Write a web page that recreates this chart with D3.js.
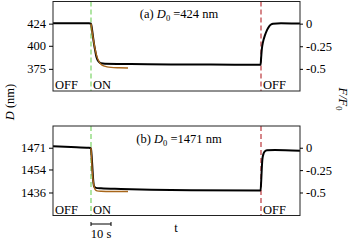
<!DOCTYPE html>
<html>
<head>
<meta charset="utf-8">
<script src="https://cdn.jsdelivr.net/npm/d3@7"></script>
<style>
  body { margin: 0; background: #fff; }
  text { font-family: "Liberation Serif", "DejaVu Serif", serif; fill: #000; }
</style>
</head>
<body>
<script>
// times in s, ON at t=0, OFF at t=85
var tOn = 0, tOff = 85;

// panel (a), D0 = 424 nm
var dataA = [
  [-19, 424.5], [-10, 424.5], [-1, 424.4], [0, 424], [0.5, 418], [1, 410], [1.5, 402],
  [2, 396], [2.5, 390], [3, 386], [4, 382.5], [5, 381], [7, 380.5], [20, 380.2],
  [40, 379.8], [60, 379.6], [84.8, 379.5], [85.1, 388], [85.4, 396], [86, 404],
  [87, 411.5], [88, 417], [89, 420.8], [90, 423], [91, 424], [95, 424.3], [104.5, 424.2]
];
var fitA = [
  [0, 424], [1, 409], [2, 397], [3, 388], [4, 383], [5, 380], [6, 378.5],
  [8, 377.2], [10, 376.6], [14, 376.2], [18.5, 376]
];
var ticksA = [375, 400, 424];
var rTicks = [0, -0.25, -0.5];

// panel (b), D0 = 1471 nm
var dataB = [
  [-19, 1472.2], [-10, 1471.6], [-1, 1470.9], [0, 1470.5], [0.3, 1465], [0.6, 1458],
  [0.9, 1450], [1.2, 1444], [1.6, 1440.5], [2.5, 1439.6], [5, 1439.3], [15, 1438.8],
  [30, 1438.2], [50, 1437.8], [84.8, 1437.5], [85.1, 1445], [85.4, 1455], [85.7, 1462],
  [86.2, 1466], [86.8, 1468], [88, 1469], [92, 1469.3], [104.5, 1468.6]
];
var fitB = [
  [0, 1471], [0.3, 1462], [0.6, 1453], [1, 1446], [1.5, 1441], [2, 1438.5],
  [3, 1437.3], [5, 1437], [10, 1436.8], [18.5, 1436.8]
];
var ticksB = [1436, 1454, 1471];

var svg = d3.select("body").append("svg")
  .attr("width", 349)
  .attr("height", 243);

var x = d3.scaleLinear().domain([-19, 104.5]).range([53, 300]);

function drawPanel(top, yDomain, d0, data, fit, ticks, label) {
  var bottom = top + 89.5;
  var y = d3.scaleLinear().domain(yDomain).range([bottom, top]);
  var r = d3.scaleLinear().domain([0, -0.5]).range([y(d0), y(ticks[0])]);
  var g = svg.append("g");

  var line = d3.line()
    .x(function(d) { return x(d[0]); })
    .y(function(d) { return y(d[1]); })
    .curve(d3.curveMonotoneX);

  [tOn, tOff].forEach(function(t, i) {
    g.append("line")
      .attr("x1", x(t)).attr("x2", x(t))
      .attr("y1", top).attr("y2", bottom)
      .attr("stroke", i === 0 ? "#6fd05a" : "#b5252a")
      .attr("stroke-width", 1.1)
      .attr("stroke-dasharray", "5,3");
  });

  g.append("path").datum(data)
    .attr("d", line)
    .attr("fill", "none")
    .attr("stroke", "#000")
    .attr("stroke-width", 2);

  g.append("path").datum(fit)
    .attr("d", line)
    .attr("fill", "none")
    .attr("stroke", "#a8661a")
    .attr("stroke-width", 1.4);

  g.append("rect")
    .attr("x", 53).attr("y", top)
    .attr("width", 247).attr("height", bottom - top)
    .attr("fill", "none")
    .attr("stroke", "#222")
    .attr("stroke-width", 1);

  var left = g.append("g")
    .attr("transform", "translate(53,0)")
    .call(d3.axisLeft(y).tickValues(ticks).tickSize(4).tickPadding(3)
      .tickFormat(d3.format("d")));
  var right = g.append("g")
    .attr("transform", "translate(300,0)")
    .call(d3.axisRight(r).tickValues(rTicks).tickSize(3).tickPadding(3)
      .tickFormat(function(d) { return d === 0 ? "0" : String(d); }));
  [left, right].forEach(function(a) {
    a.select(".domain").remove();
    a.selectAll("text").style("font-size", "12.5px").style("font-family", "Liberation Serif, serif");
  });

  var t = g.append("text")
    .attr("x", 179).attr("y", top + 16.5)
    .attr("text-anchor", "middle")
    .style("font-size", "12.5px");
  t.append("tspan").text(label + " ");
  t.append("tspan").style("font-style", "italic").text("D");
  t.append("tspan").attr("dy", 3).style("font-size", "8.5px").text("0");
  t.append("tspan").attr("dy", -3).text(" =" + d0 + " nm");

  [["OFF", 55], ["ON", 93], ["OFF", 263]].forEach(function(o) {
    g.append("text")
      .attr("x", o[1]).attr("y", bottom - 2)
      .style("font-size", "12.5px")
      .text(o[0]);
  });
}

drawPanel(1.5, [351, 448], 424, dataA, fitA, ticksA, "(a)");
drawPanel(126, [1418, 1488], 1471, dataB, fitB, ticksB, "(b)");

// axis titles
var yl = svg.append("text")
  .attr("transform", "translate(14,102) rotate(-90)")
  .attr("text-anchor", "middle")
  .style("font-size", "12.5px");
yl.append("tspan").style("font-style", "italic").text("D");
yl.append("tspan").text(" (nm)");

var fl = svg.append("text")
  .attr("transform", "translate(339,99) rotate(90)")
  .attr("text-anchor", "middle")
  .style("font-size", "12.5px")
  .style("font-style", "italic");
fl.append("tspan").text("F/F");
fl.append("tspan").attr("dy", 3).style("font-size", "8.5px").style("font-style", "normal").text("0");

// 10 s scale bar
var sb = svg.append("g").attr("stroke", "#000").attr("stroke-width", 1);
sb.append("line").attr("x1", x(0)).attr("x2", x(10)).attr("y1", 224).attr("y2", 224);
sb.append("line").attr("x1", x(0)).attr("x2", x(0)).attr("y1", 222).attr("y2", 226);
sb.append("line").attr("x1", x(10)).attr("x2", x(10)).attr("y1", 222).attr("y2", 226);
svg.append("text")
  .attr("x", x(5)).attr("y", 238)
  .attr("text-anchor", "middle")
  .style("font-size", "12.5px")
  .text("10 s");
svg.append("text")
  .attr("x", 176).attr("y", 232)
  .attr("text-anchor", "middle")
  .style("font-size", "12.5px")
  .text("t");
</script>
</body>
</html>
